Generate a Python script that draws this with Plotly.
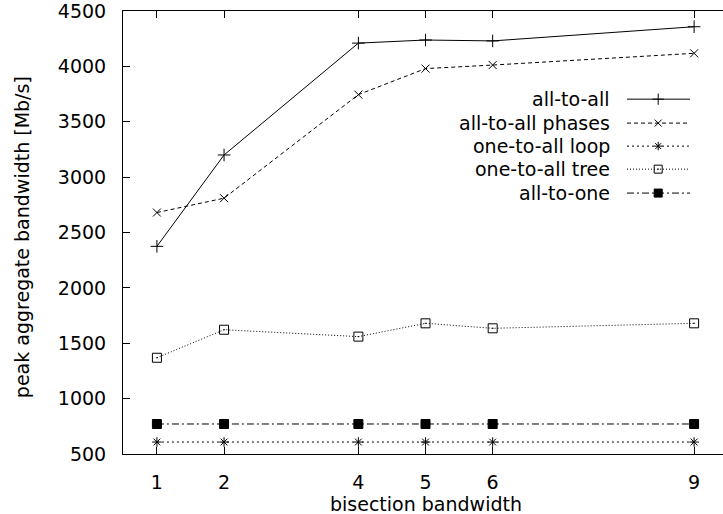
import plotly.graph_objects as go

# ---- data ----
bisection = [1, 2, 4, 5, 6, 9]
all_to_all = [2375, 3200, 4210, 4238, 4230, 4358]
all_to_all_phases = [2680, 2810, 3745, 3980, 4012, 4118]
one_to_all_loop = [608, 608, 608, 608, 608, 608]
one_to_all_tree = [1369, 1622, 1560, 1680, 1635, 1680]
all_to_one = [771, 771, 771, 771, 771, 771]

series_names = ["all-to-all", "all-to-all phases", "one-to-all loop",
                "one-to-all tree", "all-to-one"]
series_values = [all_to_all, all_to_all_phases, one_to_all_loop,
                 one_to_all_tree, all_to_one]
x_ticks = [1, 2, 4, 5, 6, 9]
y_ticks = [500, 1000, 1500, 2000, 2500, 3000, 3500, 4000, 4500]

# ---- styles ----
dashes = ["solid", "4px,3px", "2px,3px", "1px,2px", "7px,3px,2px,3px"]
symbols = ["cross-thin-open", "x-thin-open", "asterisk-open",
           "square-open-dot", "square"]
msizes = [9, 8, 8, 9, 9]

FONT = "DejaVu Sans"
FS = 19

fig = go.Figure()
for name, vals, d, s, ms in zip(series_names, series_values, dashes, symbols, msizes):
    fig.add_trace(go.Scatter(
        x=bisection, y=vals, mode="lines+markers", name=name,
        line=dict(color="black", width=1, dash=d),
        marker=dict(symbol=s, size=ms, color="black",
                    line=dict(color="black", width=1)),
        showlegend=False, cliponaxis=False,
    ))

# ---- manual gnuplot-style key on an overlay axis (0..1) ----
key_rows = [0.801, 0.747, 0.695, 0.643, 0.589]
key_x0, key_xm, key_x1, key_text_x = 0.84, 0.892, 0.945, 0.815
for name, d, s, ms, ry in zip(series_names, dashes, symbols, msizes, key_rows):
    fig.add_trace(go.Scatter(
        x=[key_x0, key_x1], y=[ry, ry], mode="lines",
        line=dict(color="black", width=1, dash=d),
        xaxis="x2", yaxis="y2", showlegend=False, hoverinfo="skip"))
    fig.add_trace(go.Scatter(
        x=[key_xm], y=[ry], mode="markers",
        marker=dict(symbol=s, size=ms - 1, color="black",
                    line=dict(color="black", width=1)),
        xaxis="x2", yaxis="y2", showlegend=False, hoverinfo="skip"))
    fig.add_annotation(x=key_text_x, y=ry, xref="paper", yref="paper",
                       text=name, showarrow=False, xanchor="right",
                       yanchor="middle", font=dict(family=FONT, size=FS, color="black"))

# axis titles
fig.add_annotation(x=-0.168, y=0.49, xref="paper", yref="paper",
                   text="peak aggregate bandwidth [Mb/s]", textangle=-90,
                   showarrow=False, xanchor="center", yanchor="middle",
                   font=dict(family=FONT, size=FS, color="black"))
fig.add_annotation(x=0.505, y=-0.112, xref="paper", yref="paper",
                   text="bisection bandwidth", showarrow=False,
                   xanchor="center", yanchor="middle",
                   font=dict(family=FONT, size=FS, color="black"))

fig.update_layout(
    template="none",
    width=723, height=514,
    margin=dict(l=123, r=0, t=11, b=60, autoexpand=False),
    paper_bgcolor="white", plot_bgcolor="white",
    font=dict(family=FONT, size=FS, color="black"),
    xaxis=dict(range=[0.495, 9.43], tickvals=x_ticks, ticktext=[str(t) for t in x_ticks],
               showgrid=False, zeroline=False, showline=True, linecolor="black",
               linewidth=1, mirror="ticks", ticks="inside", ticklen=7,
               tickcolor="black", tickwidth=1, ticklabelstandoff=11,
               automargin=False, ticklabeloverflow="allow"),
    yaxis=dict(range=[500, 4500], tickvals=y_ticks,
               showgrid=False, zeroline=False, showline=True, linecolor="black",
               linewidth=1, mirror=False, ticks="inside", ticklen=7,
               tickcolor="black", tickwidth=1, ticklabelstandoff=12,
               automargin=False, ticklabeloverflow="allow"),
    xaxis2=dict(range=[0, 1], overlaying="x", visible=False, anchor="y2"),
    yaxis2=dict(range=[0, 1], overlaying="y", visible=False, anchor="x2"),
)

fig.write_html(
    "out.html",
    config={"displayModeBar": False},
    post_script="document.body.style.margin='0';document.body.style.overflow='hidden';",
)
